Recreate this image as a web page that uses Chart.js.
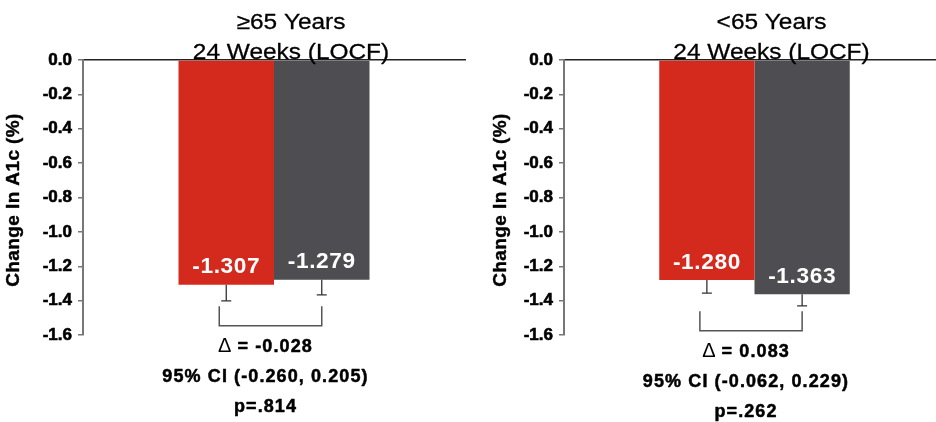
<!DOCTYPE html>
<html>
<head>
<meta charset="utf-8">
<script src="https://cdn.jsdelivr.net/npm/chart.js@4.4.1/dist/chart.umd.min.js"></script>
<style>
  html, body { margin: 0; padding: 0; background: #fff; overflow: hidden; }
  .panel { position: absolute; top: 0; width: 468px; height: 422px; overflow: hidden; }
</style>
</head>
<body>
<div class="panel" style="left:0"><canvas id="c0" width="468" height="422"></canvas></div>
<div class="panel" style="left:468px"><canvas id="c1" width="480" height="422"></canvas></div>
<script>
// Change in A1c at 24 weeks (LOCF), by age group
const ageGroups = ['≥65 Years', '<65 Years'];
const period = '24 Weeks (LOCF)';
const treatmentChange = [-1.307, -1.280];
const treatmentSE = [0.094, 0.076];
const comparatorChange = [-1.279, -1.363];
const comparatorSE = [0.087, 0.067];
const deltaValues = [-0.028, 0.083];
const ciLower = [-0.260, -0.062];
const ciUpper = [0.205, 0.229];
const pValues = [0.814, 0.262];
const yMin = -1.6, yMax = 0, yStep = 0.2;
const yAxisTitle = 'Change In A1c (%)';

const FONT = "'Liberation Sans', Arial, Helvetica, sans-serif";
const RED = '#D42A1E';
const GRAY = '#4D4D52';

// text helper: optional letter spacing, horizontal stretch and outline weight
function drawText(ctx, text, x, y, font, opts) {
  const o = Object.assign({ spacing: 0, stretch: 1, color: '#000', align: 'center', baseline: 'alphabetic', stroke: 0 }, opts || {});
  ctx.save();
  ctx.font = font;
  ctx.letterSpacing = o.spacing + 'px';
  ctx.fillStyle = o.color;
  ctx.textAlign = o.align;
  ctx.textBaseline = o.baseline;
  ctx.translate(x, y);
  ctx.scale(o.stretch, 1);
  if (o.stroke) {
    ctx.strokeStyle = o.color;
    ctx.lineWidth = o.stroke;
    ctx.lineJoin = 'round';
    ctx.strokeText(text, 0, 0);
  }
  ctx.fillText(text, 0, 0);
  ctx.restore();
}

function textWidth(ctx, text, font, spacing, stretch) {
  ctx.save();
  ctx.font = font;
  ctx.letterSpacing = (spacing || 0) + 'px';
  const w = ctx.measureText(text).width * (stretch || 1);
  ctx.restore();
  return w;
}

function panelPlugin(i, yTitleX) {
  return {
    id: 'panelDecor' + i,
    afterDatasetsDraw(chart) {
      const ctx = chart.ctx;
      const ys = chart.scales.y;
      const xs = chart.scales.x;
      const barR = chart.getDatasetMeta(0).data[0];
      const barG = chart.getDatasetMeta(1).data[0];

      // error bars (one SE below the bar end)
      const errs = [[barR, treatmentChange[i], treatmentSE[i]], [barG, comparatorChange[i], comparatorSE[i]]];
      const ends = [];
      ctx.save();
      ctx.strokeStyle = '#333';
      ctx.lineWidth = 1.3;
      errs.forEach(([bar, v, se]) => {
        const yEnd = ys.getPixelForValue(v - se);
        ends.push(yEnd);
        ctx.beginPath();
        ctx.moveTo(bar.x, bar.y);
        ctx.lineTo(bar.x, yEnd);
        ctx.moveTo(bar.x - 5, yEnd);
        ctx.lineTo(bar.x + 5, yEnd);
        ctx.stroke();
      });
      ctx.restore();

      // value labels inside the bars
      [[barR, treatmentChange[i]], [barG, comparatorChange[i]]].forEach(([bar, v]) => {
        drawText(ctx, v.toFixed(3), bar.x, bar.y - 17.5, 'bold 22px ' + FONT,
          { spacing: 0.6, stretch: 1.03, color: '#fff', baseline: 'middle' });
      });

      // comparison bracket
      const bl = barR.x - 7, br = barG.x;
      const bt = Math.max(ends[0], ends[1]) + 5.5;
      const bb = bt + 19.5;
      ctx.save();
      ctx.strokeStyle = '#555';
      ctx.lineWidth = 1.5;
      ctx.beginPath();
      ctx.moveTo(bl, bt);
      ctx.lineTo(bl, bb);
      ctx.lineTo(br, bb);
      ctx.lineTo(br, bt);
      ctx.stroke();
      ctx.restore();

      // difference, confidence interval and p-value
      const cx = (bl + br) / 2 - 5;
      const noteFont = 'bold 18px ' + FONT;
      const deltaRest = ' = ' + deltaValues[i].toFixed(3);
      const wD = textWidth(ctx, 'Δ', '20px ' + FONT, 0, 1);
      const wR = textWidth(ctx, deltaRest, noteFont, 1.1, 1);
      const sx = cx - (wD + wR) / 2;
      drawText(ctx, 'Δ', sx, bb + 26, '20px ' + FONT, { align: 'left' });
      drawText(ctx, deltaRest, sx + wD, bb + 26, noteFont, { spacing: 1.1, align: 'left', stroke: 0.5 });
      drawText(ctx, '95% CI (' + ciLower[i].toFixed(3) + ', ' + ciUpper[i].toFixed(3) + ')',
        cx, bb + 56, noteFont, { spacing: 1.1, stroke: 0.5 });
      drawText(ctx, 'p=' + pValues[i].toFixed(3).replace(/^0/, ''),
        cx, bb + 86, noteFont, { spacing: 1.1, stroke: 0.5 });

      // panel title
      const tx = xs.getPixelForValue(0) + 17;
      drawText(ctx, ageGroups[i], tx, 28.5, '22px ' + FONT, { stretch: 1.11, stroke: 0.3 });
      drawText(ctx, period, tx, 59, '22px ' + FONT, { stretch: 1.11, stroke: 0.3 });

      // y-axis title
      ctx.save();
      ctx.translate(yTitleX, 200);
      ctx.rotate(-Math.PI / 2);
      drawText(ctx, yAxisTitle, 0, 0, 'bold 19px ' + FONT, { spacing: 0.4, baseline: 'middle', stroke: 0.4 });
      ctx.restore();
    }
  };
}

function makePanel(i, canvasId, axisWidth, yTitleX) {
  return new Chart(document.getElementById(canvasId), {
    type: 'bar',
    data: {
      labels: [period],
      datasets: [
        { data: [treatmentChange[i]], backgroundColor: RED, borderWidth: 0, barPercentage: 1, categoryPercentage: 0.5 },
        { data: [comparatorChange[i]], backgroundColor: GRAY, borderWidth: 0, barPercentage: 1, categoryPercentage: 0.5 }
      ]
    },
    options: {
      responsive: false,
      animation: false,
      events: [],
      layout: { padding: { top: 60, bottom: 87, left: 0, right: 3 } },
      plugins: { legend: { display: false }, tooltip: { enabled: false }, title: { display: false } },
      scales: {
        x: {
          position: 'top',
          offset: true,
          grid: { display: false },
          border: { display: true, color: '#222', width: 1.5 },
          ticks: { display: false },
          afterFit(s) { s.height = 0; }
        },
        y: {
          min: yMin,
          max: yMax,
          ticks: {
            stepSize: yStep,
            callback: v => Number(v).toFixed(1),
            font: { family: FONT, size: 17, weight: 'bold' },
            color: '#000',
            textStrokeColor: '#000',
            textStrokeWidth: 0.6,
            padding: 6
          },
          grid: { display: true, drawOnChartArea: false, drawTicks: true, tickLength: 5, color: '#777', lineWidth: 1.5 },
          border: { display: true, color: '#777', width: 2 },
          afterFit(s) { s.width = axisWidth; }
        }
      }
    },
    plugins: [panelPlugin(i, yTitleX)]
  });
}

makePanel(0, 'c0', 83, 13.5);
makePanel(1, 'c1', 96, 32.5);
</script>
</body>
</html>
